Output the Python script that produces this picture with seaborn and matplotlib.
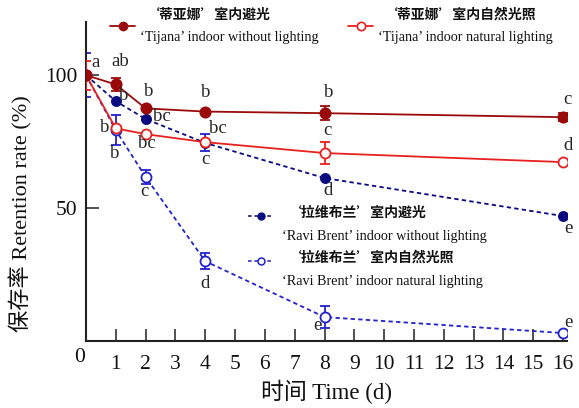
import matplotlib
matplotlib.use("Agg")
import matplotlib.pyplot as plt
from matplotlib.lines import Line2D
import seaborn as sns

# Sampling days
days = [0, 1, 2, 4, 8, 16]

# Retention rate (%) with standard deviations and significance letters
tijana_dark = [100, 96.5, 87.5, 86.3, 85.7, 84.2]
tijana_dark_sd = [0, 2.3, 0, 0, 2.6, 1.6]
tijana_dark_sig = ['a', 'ab', 'b', 'b', 'b', 'c']

tijana_light = [100, 80.0, 77.8, 74.8, 70.7, 67.3]
tijana_light_sd = [5.5, 0, 0, 0, 4.1, 0]
tijana_light_sig = ['', 'b', 'bc', 'bc', 'c', 'd']

ravi_dark = [100, 90.2, 83.5, 74.5, 61.3, 47.0]
ravi_dark_sd = [0, 0, 0, 3.2, 0, 0]
ravi_dark_sig = ['', 'b', 'bc', 'c', 'd', 'e']

ravi_light = [100, 79.3, 61.7, 30.0, 9.0, 3.0]
ravi_light_sd = [8.4, 5.6, 2.5, 3.0, 4.0, 0]
ravi_light_sig = ['', 'b', 'c', 'd', 'e', 'e']

x_ticks = list(range(0, 17))
x_tick_labels = [''] + [str(t) for t in range(1, 17)]
y_ticks = [0, 50, 100]
y_tick_labels = ['', '50', '100']

cn_labels = ['‘蒂亚娜’室内避光', '‘蒂亚娜’室内自然光照',
             '‘拉维布兰’室内避光', '‘拉维布兰’室内自然光照']
en_labels = ["‘Tijana’ indoor without lighting",
             "‘Tijana’ indoor natural lighting",
             "‘Ravi Brent’ indoor without lighting",
             "‘Ravi Brent’ indoor natural lighting"]

sns.set_style("ticks")
SERIF = ['Liberation Serif', 'Noto Sans CJK SC']
CJK = ['Noto Sans CJK SC', 'Liberation Serif']
plt.rcParams['font.family'] = SERIF

DARK_RED = '#9a0a0a'
RED = '#e8201e'
NAVY = '#0b0b80'
BLUE = '#2222cc'
DASH = (0, (2.4, 1.8))

W, H = 579.0, 408.0
fig = plt.figure(figsize=(5.79, 4.08), dpi=100)
ax = fig.add_axes([0.1485, 0.1642, 0.8307, 0.7819])

# px offsets (right, up) of the significance letters from each point
series = [
    dict(y=ravi_light, sd=ravi_light_sd, sig=ravi_light_sig, color=BLUE, ecolor=BLUE,
         face='white', ls=DASH, ms=7.2, z=3,
         off=[None, (-1, -23), (-1, -15), (0, -22), (-7, -8), (5, 11)]),
    dict(y=ravi_dark, sd=ravi_dark_sd, sig=ravi_dark_sig, color=NAVY, ecolor=BLUE,
         face=NAVY, ls=DASH, ms=6.6, z=4,
         off=[None, (8, 6), (16, 3), (0, -17), (3, -12), (5, -12)]),
    dict(y=tijana_light, sd=tijana_light_sd, sig=tijana_light_sig, color=RED, ecolor=RED,
         face='white', ls='-', ms=7.2, z=5,
         off=[None, (-11, 1), (1, -9), (13, 14), (3, 23), (5, 17)]),
    dict(y=tijana_dark, sd=tijana_dark_sd, sig=tijana_dark_sig, color=DARK_RED, ecolor=DARK_RED,
         face=DARK_RED, ls='-', ms=7.4, z=6,
         off=[(10, 13), (4, 23), (3, 17), (0, 19), (4, 21), (4, 18)]),
]

for s in series:
    sns.lineplot(x=days, y=s['y'], ax=ax, color=s['color'], linewidth=1.3,
                 linestyle=s['ls'], marker='o', markersize=s['ms'],
                 markerfacecolor=s['face'], markeredgecolor=s['color'],
                 markeredgewidth=1.3, errorbar=None, estimator=None,
                 zorder=s['z'])
    ex = [d for d, e in zip(days, s['sd']) if e > 0]
    ey = [v for v, e in zip(s['y'], s['sd']) if e > 0]
    ee = [e for e in s['sd'] if e > 0]
    ax.errorbar(ex, ey, yerr=ee, fmt='none', ecolor=s['ecolor'], elinewidth=1.3,
                capsize=3.6, capthick=1.3, zorder=s['z'] - 0.5)
    for d, v, letter, off in zip(days, s['y'], s['sig'], s['off']):
        if letter:
            ax.annotate(letter, xy=(d, v), xytext=(off[0] * 0.72, off[1] * 0.72),
                        textcoords='offset points', ha='center', va='center',
                        fontsize=13.5, family='Liberation Serif', zorder=8)

ax.set_xlim(0, 16.13)
ax.set_ylim(0, 120)
ax.set_xticks(x_ticks)
ax.set_xticklabels(x_tick_labels)
ax.set_yticks(y_ticks)
ax.set_yticklabels(y_tick_labels)
ax.tick_params(axis='both', direction='in', length=9, width=1.1, color='#222222',
               labelsize=15.5, labelcolor='#111111')
ax.tick_params(axis='x', pad=10)
ax.tick_params(axis='y', pad=6)
ax.annotate('0', xy=(0, 0), xycoords='axes fraction', xytext=(-4.5, -12),
            textcoords='offset points', ha='center', va='center',
            fontsize=15.5, color='#111111')

for side in ['top', 'right']:
    ax.spines[side].set_visible(False)
for side in ['left', 'bottom']:
    ax.spines[side].set_linewidth(1.5)
    ax.spines[side].set_color('#222222')

ax.set_xlabel('时间 Time (d)', fontsize=16.5, labelpad=4, color='#111111')
ax.set_ylabel('保存率 Retention rate (%)', fontsize=16, color='#111111')
ax.yaxis.set_label_coords(-0.112, 0.40)

# Legend entries: Chinese title line with handle, English line beneath
handles = [
    Line2D([], [], color=DARK_RED, lw=1.3, marker='o', markersize=6,
           markerfacecolor=DARK_RED, markeredgecolor=DARK_RED),
    Line2D([], [], color=RED, lw=1.3, marker='o', markersize=6,
           markerfacecolor='white', markeredgecolor=RED, markeredgewidth=1.2),
    Line2D([], [], color=NAVY, lw=1.1, ls=DASH, marker='o', markersize=5,
           markerfacecolor=NAVY, markeredgecolor=NAVY),
    Line2D([], [], color=BLUE, lw=1.1, ls=DASH, marker='o', markersize=5,
           markerfacecolor='white', markeredgecolor=BLUE, markeredgewidth=1.1),
]
# (handle x, handle y, Chinese line y, English x, English y) in pixels
anchors = [(110, 27, 15, 140, 38), (348, 27, 15, 378, 38),
           (248, 217, 213, 282, 236), (248, 262, 258, 282, 281)]
for h, cn, en, (hx, hy, cy, ex_, ey_) in zip(handles, cn_labels, en_labels, anchors):
    leg = fig.legend([h], [''], loc='center left',
                     bbox_to_anchor=(hx / W, 1 - hy / H), frameon=False,
                     borderpad=0, borderaxespad=0, handlelength=1.8,
                     handletextpad=0, prop=dict(size=10))
    fig.text((ex_ + 6) / W, 1 - cy / H, cn, ha='left', va='center',
             family=CJK, fontsize=10, weight='bold', color='#111111')
    fig.text(ex_ / W, 1 - ey_ / H, en, ha='left', va='center',
             family='Liberation Serif', fontsize=10.2, color='#111111')

fig.savefig('out.png', dpi=100)
